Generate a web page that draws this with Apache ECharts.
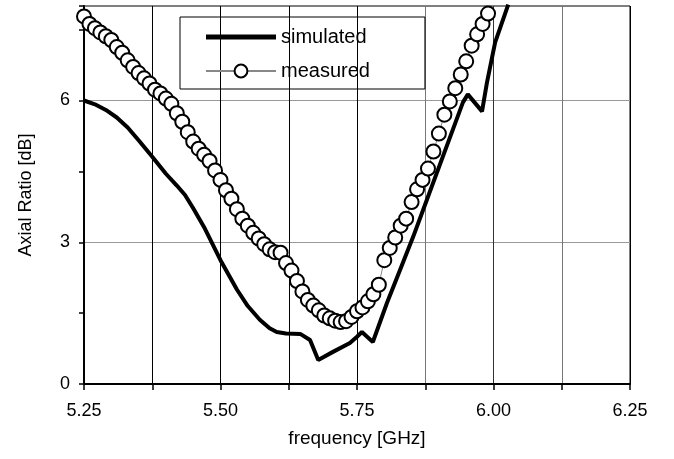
<!DOCTYPE html>
<html>
<head>
<meta charset="utf-8">
<script src="https://cdn.jsdelivr.net/npm/echarts@6/dist/echarts.min.js"></script>
<style>
  html, body { margin: 0; padding: 0; background: #fff; }
  #chart { width: 674px; height: 459px; }
</style>
</head>
<body>
<div id="chart"></div>
<script>
// 数据：数值
var simFreq = [5.25, 5.27, 5.29, 5.31, 5.33, 5.35, 5.375, 5.40, 5.42, 5.435, 5.45, 5.47, 5.50, 5.53, 5.55, 5.572, 5.59, 5.603, 5.62, 5.646, 5.664, 5.679,
  5.706, 5.737, 5.75, 5.759, 5.779, 5.805, 5.829, 5.853, 5.878, 5.944, 5.953, 5.979, 5.988, 6.003, 6.027];
var simValue = [6.00, 5.92, 5.80, 5.64, 5.43, 5.16, 4.81, 4.45, 4.20, 4.00, 3.72, 3.32, 2.62, 2.00, 1.65, 1.36, 1.18, 1.10, 1.07, 1.06, 0.93, 0.51,
  0.68, 0.87, 1.00, 1.10, 0.89, 1.72, 2.42, 3.12, 3.90, 5.96, 6.13, 5.77, 6.38, 7.23, 8.03];

var measFreq = [];
for (var i = 0; i < 75; i++) { measFreq.push(+(5.25 + i * 0.01).toFixed(2)); }
var measValue = [7.78, 7.62, 7.53, 7.44, 7.36, 7.28, 7.13, 7.01, 6.85, 6.71,
  6.58, 6.47, 6.36, 6.23, 6.15, 6.04, 5.93, 5.73, 5.55, 5.33,
  5.13, 4.98, 4.85, 4.72, 4.52, 4.32, 4.10, 3.92, 3.70, 3.50,
  3.35, 3.20, 3.08, 2.96, 2.85, 2.79, 2.78, 2.56, 2.40, 2.18,
  1.96, 1.78, 1.66, 1.56, 1.45, 1.39, 1.34, 1.31, 1.33, 1.42,
  1.54, 1.62, 1.75, 1.90, 2.10, 2.62, 2.88, 3.10, 3.35, 3.50,
  3.85, 4.12, 4.32, 4.56, 4.92, 5.30, 5.70, 5.98, 6.26, 6.55,
  6.83, 7.16, 7.40, 7.62, 7.84];

var xLabels = [5.25, 5.50, 5.75, 6.00, 6.25];
var yLabels = [0, 3, 6];

function pairs(xs, ys) {
  return xs.map(function (x, i) { return [x, ys[i]]; });
}

var myChart = echarts.init(document.getElementById('chart'));

var option = {
  animation: false,
  textStyle: { fontFamily: 'Liberation Sans, Arial, sans-serif' },
  grid: {
    left: 84, right: 44, top: 6, bottom: 75,
    show: true, borderColor: '#000', borderWidth: 1
  },
  legend: {
    orient: 'vertical',
    left: 180, top: 17,
    data: [
      // 粗实线图例
      { name: 'simulated', icon: 'path://M0,0H70V5H0Z' },
      { name: 'measured' }
    ],
    borderColor: '#000', borderWidth: 1,
    padding: [10, 55, 8, 25],
    itemWidth: 70, itemHeight: 16, itemGap: 14,
    textStyle: { fontSize: 20, color: '#000' }
  },
  xAxis: {
    type: 'value',
    min: 5.25, max: 6.25, interval: 0.125,
    name: 'frequency [GHz]',
    nameLocation: 'middle', nameGap: 45,
    nameTextStyle: { fontSize: 19, color: '#000' },
    axisLine: { lineStyle: { color: '#000', width: 2 } },
    axisTick: { length: 6, lineStyle: { color: '#000', width: 1.5 } },
    axisLabel: {
      fontSize: 18, color: '#000', margin: 18,
      formatter: function (v) {
        for (var k = 0; k < xLabels.length; k++) {
          if (Math.abs(v - xLabels[k]) < 1e-6) return v.toFixed(2);
        }
        return '';
      }
    },
    splitLine: {
      show: true,
      lineStyle: {
        width: 1,
        color: ['#000', '#000', '#000', '#000', '#000', '#777', '#333', '#777', '#000']
      }
    }
  },
  yAxis: {
    type: 'value',
    min: 0, max: 8, interval: 1.5,
    name: 'Axial Ratio [dB]',
    nameLocation: 'middle', nameGap: 49,
    nameTextStyle: { fontSize: 18, color: '#000' },
    axisLine: { show: true, lineStyle: { color: '#000', width: 2 } },
    axisTick: { show: true, length: 5, lineStyle: { color: '#000', width: 1.5 } },
    axisLabel: {
      fontSize: 18, color: '#000', margin: 14,
      formatter: function (v) {
        return yLabels.indexOf(Math.round(v * 100) / 100) >= 0 ? String(v) : '';
      }
    },
    splitLine: {
      show: true,
      lineStyle: {
        width: 1,
        color: ['transparent', 'transparent', '#999', 'transparent', '#999', 'transparent', 'transparent']
      }
    }
  },
  series: [
    {
      name: 'measured',
      type: 'line',
      data: pairs(measFreq, measValue),
      symbol: 'circle',
      symbolSize: 14,
      showAllSymbol: true,
      itemStyle: { color: '#fff', borderColor: '#000', borderWidth: 2 },
      lineStyle: { color: '#888', width: 1 },
      z: 2
    },
    {
      name: 'simulated',
      type: 'line',
      data: pairs(simFreq, simValue),
      symbol: 'none',
      lineStyle: { color: '#000', width: 4 },
      itemStyle: { color: '#000' },
      z: 3
    }
  ]
};

myChart.setOption(option);
</script>
</body>
</html>
